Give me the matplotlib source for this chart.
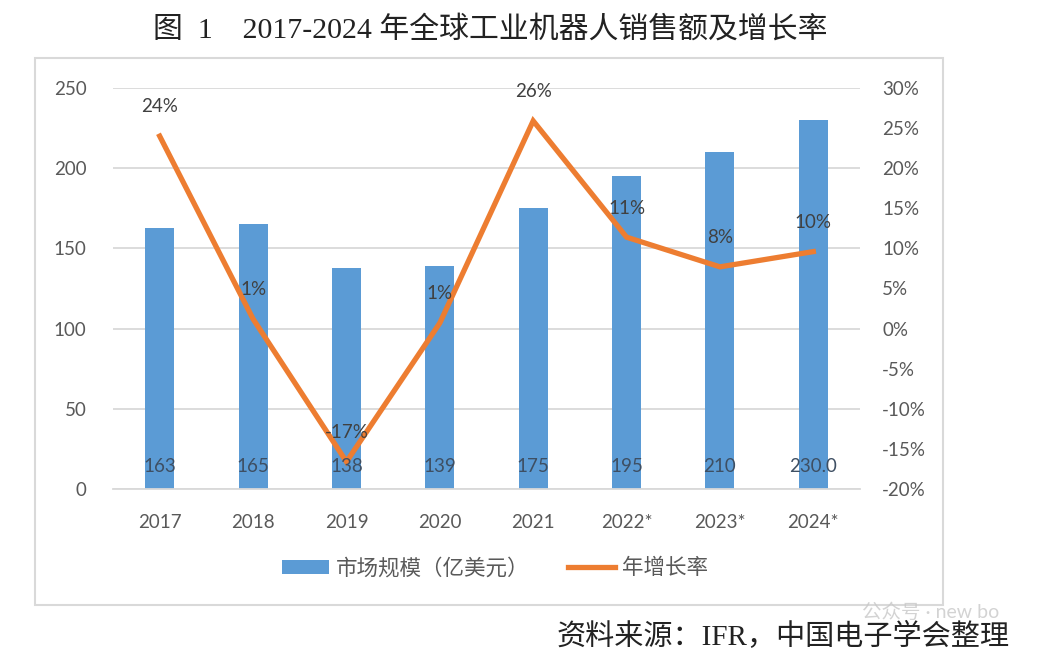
import matplotlib
matplotlib.use("Agg")
import matplotlib.pyplot as plt
from matplotlib.patches import Patch, Rectangle
from matplotlib.lines import Line2D
from matplotlib.ticker import FuncFormatter

plt.rcParams['font.family'] = ['Lato', 'Noto Sans CJK SC', 'DejaVu Sans']

# data
years = ['2017', '2018', '2019', '2020', '2021', '2022*', '2023*', '2024*']
market = [163, 165, 138, 139, 175, 195, 210, 230]
market_labels = ['163', '165', '138', '139', '175', '195', '210', '230.0']
growth = [0.24, 0.012, -0.166, 0.007, 0.259, 0.114, 0.077, 0.096]

title = '图  1　2017-2024 年全球工业机器人销售额及增长率'
source = '资料来源：IFR，中国电子学会整理'
bar_name = '市场规模（亿美元）'
line_name = '年增长率'

BLUE = '#5b9bd5'
ORANGE = '#ed7d31'
TICK = '#595959'
GRID = '#d9d9d9'

fig = plt.figure(figsize=(10.6, 6.65), dpi=100)
ax = fig.add_axes([113/1060, 1 - 489/665, (860 - 113)/1060, (489 - 88)/665])
ax2 = ax.twinx()

x = list(range(len(years)))
ax.bar(x, market, width=0.31, color=BLUE, zorder=2)
ax.set_xlim(-0.5, len(years) - 0.5)
ax.set_ylim(0, 250)
ax.set_yticks(range(0, 251, 50))
ax.grid(axis='y', color=GRID, lw=1.3, zorder=0)
ax.set_axisbelow(True)

ax2.plot(x, growth, color=ORANGE, lw=3.8, solid_joinstyle='miter', zorder=3)
ax2.set_ylim(-0.20, 0.30)
ax2.set_yticks([i / 100 for i in range(-20, 31, 5)])
ax2.yaxis.set_major_formatter(FuncFormatter(lambda v, p: '{:.0f}%'.format(v * 100)))

for a in (ax, ax2):
    for s in a.spines.values():
        s.set_visible(False)
    a.tick_params(length=0, labelsize=13.5, labelcolor=TICK)
ax.spines['bottom'].set_visible(True)
ax.spines['bottom'].set_color(GRID)
ax.spines['bottom'].set_linewidth(1.3)

ax.set_xticks(x)
ax.set_xticklabels(years)
ax.tick_params(axis='x', pad=18)
ax.tick_params(axis='y', pad=19)
ax2.tick_params(axis='y', pad=16)

# value labels (drawn on the top axis so they sit above the line)
for i, lbl in enumerate(market_labels):
    ax2.annotate(lbl, xy=(i, 0), xycoords=ax.transData, xytext=(0, 16.5),
                 textcoords='offset points', ha='center', va='center',
                 fontsize=13.5, color='#3e4f63', zorder=5)
for i, g in enumerate(growth):
    ax2.annotate('{:.0f}%'.format(g * 100), xy=(i, g), xytext=(0, 21),
                 textcoords='offset points', ha='center', va='center',
                 fontsize=13.5, color='#404040', zorder=5)

handles = [Patch(facecolor=BLUE, edgecolor='none'),
           Line2D([], [], color=ORANGE, lw=3.8)]
fig.legend(handles, [bar_name, line_name], loc='center', ncol=2,
           bbox_to_anchor=(495/1060, 1 - 568/665), frameon=False,
           fontsize=15.5, labelcolor=TICK, handlelength=2.2, handleheight=0.6,
           handletextpad=0.3, columnspacing=1.8)

fig.patches.append(Rectangle((35/1060, 1 - 605/665), (943 - 35)/1060, (605 - 58)/665,
                             transform=fig.transFigure, fill=False,
                             edgecolor=GRID, lw=1.5))

fig.text(490/1060, 1 - 30/665, title, ha='center', va='center', fontsize=21.5,
         color='#222222', family=['Liberation Serif', 'Noto Sans CJK SC'])
fig.text(1010/1060, 1 - 637/665, source, ha='right', va='center', fontsize=21,
         color='#222222', family=['Liberation Serif', 'Noto Sans CJK SC'])
# faint watermark
fig.text(862/1060, 1 - 612/665, '公众号 · new bo', ha='left', va='center',
         fontsize=14, color='#c8c8c8', alpha=0.8)

fig.savefig('out.png', dpi=100)
